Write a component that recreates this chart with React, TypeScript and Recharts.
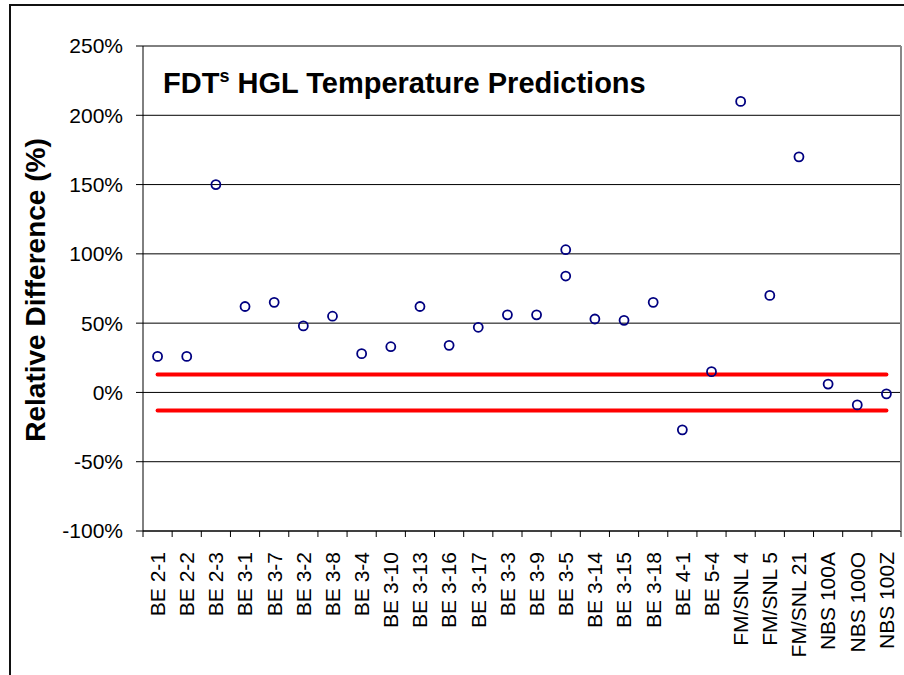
import React from 'react';
import { ComposedChart, Scatter, XAxis, YAxis, CartesianGrid, ReferenceLine } from 'recharts';

const categories = [
  'BE 2-1', 'BE 2-2', 'BE 2-3', 'BE 3-1', 'BE 3-7', 'BE 3-2', 'BE 3-8', 'BE 3-4', 'BE 3-10',
  'BE 3-13', 'BE 3-16', 'BE 3-17', 'BE 3-3', 'BE 3-9', 'BE 3-5', 'BE 3-14', 'BE 3-15', 'BE 3-18',
  'BE 4-1', 'BE 5-4', 'FM/SNL 4', 'FM/SNL 5', 'FM/SNL 21', 'NBS 100A', 'NBS 100O', 'NBS 100Z',
];

// relative difference (%) per test
const relDiff = [26, 26, 150, 62, 65, 48, 55, 28, 33, 62, 34, 47, 56, 56, 103, 53, 52, 65, -27, 15, 210, 70, 170, 6, -9, -1];

// BE 3-5 has a second prediction
const secondCategory = 'BE 3-5';
const secondValue = 84;

const upperLimit = 13;
const lowerLimit = -13;

const yTicks = [-100, -50, 0, 50, 100, 150, 200, 250];

const W = 904;
const H = 675;
const Y_AXIS_W = 143;
const RIGHT_AXIS_W = 3;
const PLOT_W = W - Y_AXIS_W - RIGHT_AXIS_W;
const BAND = PLOT_W / categories.length;
const FONT = '"Liberation Sans", Arial, sans-serif';

const data = categories.map((name, i) => ({
  name,
  diff: relDiff[i],
  diff2: name === secondCategory ? secondValue : null,
}));

const makeMarker = (key: string) => (props: any) => {
  const { cx, cy, payload } = props;
  if (payload == null || payload[key] == null || cx == null || cy == null) return <g />;
  return <circle cx={cx} cy={cy} r={4.5} fill="none" stroke="#000080" strokeWidth={1.8} />;
};

const CategoryTick = (props: any) => {
  const { x, y, payload, index } = props;
  const ty = y + 21;
  const left = x - BAND / 2;
  const right = x + BAND / 2;
  return (
    <g>
      <line x1={left} y1={y} x2={left} y2={y + 6} stroke="#000" strokeWidth={1} />
      {index === categories.length - 1 && (
        <line x1={right} y1={y} x2={right} y2={y + 6} stroke="#000" strokeWidth={1} />
      )}
      <text
        x={x}
        y={ty}
        transform={`rotate(-90, ${x}, ${ty})`}
        textAnchor="end"
        dy="0.35em"
        fontSize={21}
        fontFamily={FONT}
        fill="#000"
      >
        {payload.value}
      </text>
    </g>
  );
};

export default function App() {
  return (
    <div style={{ position: 'absolute', left: 0, top: 0, width: W, height: H, background: '#fff' }}>
      <div
        style={{
          position: 'absolute',
          left: 9,
          top: 4,
          width: W - 9,
          height: H - 4,
          borderLeft: '2px solid #111',
          borderTop: '2px solid #111',
          boxSizing: 'border-box',
        }}
      />
      <div style={{ position: 'absolute', left: 0, top: 0 }}>
        <ComposedChart width={W} height={H} data={data} margin={{ top: 46, right: 0, left: 0, bottom: 0 }}>
          <CartesianGrid vertical={false} stroke="#000" strokeWidth={1} />
          <XAxis
            dataKey="name"
            type="category"
            scale="band"
            interval={0}
            height={144}
            tickSize={0}
            tickMargin={0}
            tickLine={false}
            axisLine={{ stroke: '#000', strokeWidth: 1 }}
            tick={<CategoryTick />}
          />
          <YAxis
            domain={[-100, 250]}
            ticks={yTicks}
            interval={0}
            width={Y_AXIS_W}
            tickSize={7}
            tickMargin={13}
            tickFormatter={(v: number) => `${v}%`}
            tick={{ fontSize: 21, fill: '#000', fontFamily: FONT }}
            axisLine={{ stroke: '#000', strokeWidth: 1 }}
            tickLine={{ stroke: '#000', strokeWidth: 1 }}
          />
          <YAxis
            yAxisId="frame"
            orientation="right"
            width={RIGHT_AXIS_W}
            tick={false}
            tickLine={false}
            axisLine={{ stroke: '#888', strokeWidth: 2 }}
          />
          <ReferenceLine
            segment={[{ x: categories[0], y: upperLimit }, { x: categories[categories.length - 1], y: upperLimit }]}
            stroke="#ff0000"
            strokeWidth={4}
            strokeLinecap="round"
          />
          <ReferenceLine
            segment={[{ x: categories[0], y: lowerLimit }, { x: categories[categories.length - 1], y: lowerLimit }]}
            stroke="#ff0000"
            strokeWidth={4}
            strokeLinecap="round"
          />
          <Scatter dataKey="diff" shape={makeMarker('diff')} isAnimationActive={false} />
          <Scatter dataKey="diff2" shape={makeMarker('diff2')} isAnimationActive={false} />
        </ComposedChart>
      </div>
      <svg
        width={W}
        height={H}
        style={{ position: 'absolute', left: 0, top: 0, pointerEvents: 'none' }}
      >
        <text x={163} y={93} fontSize={29} fontWeight="bold" fontFamily={FONT} fill="#000">
          FDT
          <tspan dy={-11} fontSize={18}>s</tspan>
          <tspan dy={11}> HGL Temperature Predictions</tspan>
        </text>
        <text
          transform="translate(45, 290) rotate(-90)"
          textAnchor="middle"
          fontSize={28}
          fontWeight="bold"
          fontFamily={FONT}
          fill="#000"
        >
          Relative Difference (%)
        </text>
      </svg>
    </div>
  );
}
